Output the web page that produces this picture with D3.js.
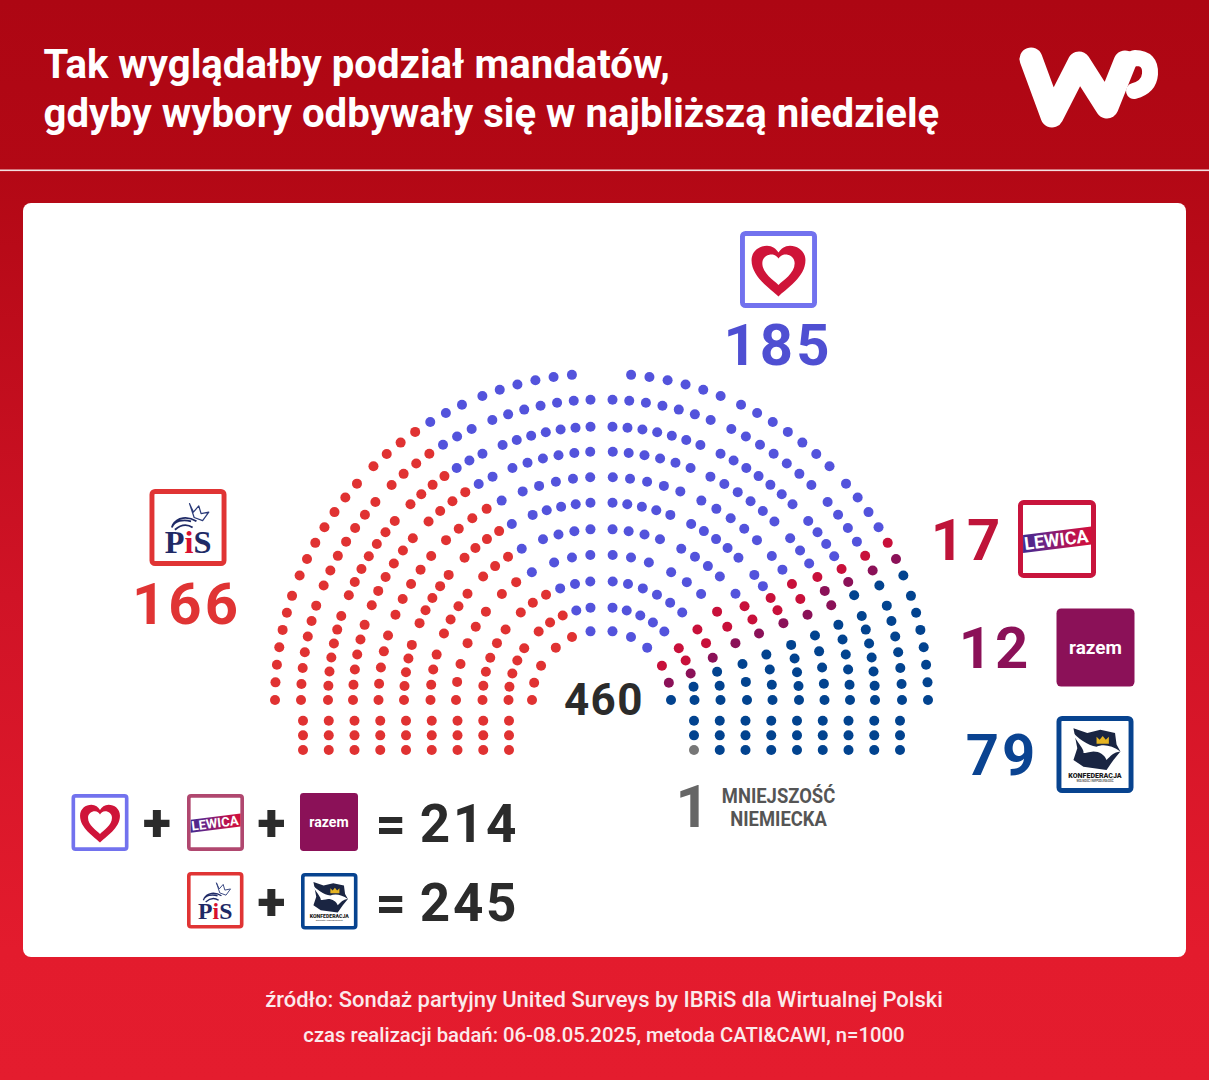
<!DOCTYPE html>
<html lang="pl"><head><meta charset="utf-8">
<script src="https://cdn.jsdelivr.net/npm/d3@7"></script>
<style>html,body{margin:0;padding:0;background:#fff}svg{display:block}text{font-family:Roboto,sans-serif}</style>
</head><body><div id="chart"></div>
<script>
// ---- values ----
const titleLines = ["Tak wyglądałby podział mandatów,", "gdyby wybory odbywały się w najbliższą niedzielę"];
const sourceLines = ["źródło: Sondaż partyjny United Surveys by IBRiS dla Wirtualnej Polski", "czas realizacji badań: 06-08.05.2025, metoda CATI&CAWI, n=1000"];
const totalSeats = 460;
const partyKeys = ["pis", "ko", "lewica", "razem", "konf", "mn"];
const partySeats = [166, 185, 17, 12, 79, 1];
const coalitionTotals = [214, 245];
const minorityLabel = ["MNIEJSZOŚĆ", "NIEMIECKA"];

// seats per arc row (inner row first), read left to right across the hall
const pisByRow    = [5, 8, 9, 8, 11, 14, 14, 16, 18, 18, 18];
const koByRow     = [4, 7, 9, 10, 14, 18, 18, 23, 28, 28, 26];
const lewicaByRow = [1, 2, 2, 2, 2, 2, 2, 1, 1, 1, 1];
const razemByRow  = [1, 1, 1, 1, 1, 1, 1, 2, 1, 1, 1];
const konfByRow   = [1, 2, 3, 3, 4, 5, 5, 6, 8, 8, 8];
// straight blocks below the arcs
const pisBlockSeats = 27;
const konfBlockSeats = 26;
const mnBlockSeats = 1;

// ---- hall geometry ----
const W = 1209, H = 1080, cx = 601.5, cy = 700;
const colors = {pis:"#e03232", ko:"#5353dc", lewica:"#c8103a", razem:"#8b1158", konf:"#02438f", mn:"#777777"};
const labelColors = {pis:"#e03434", ko:"#4f4fd2", lewica:"#bf1439", razem:"#8b1158", konf:"#0a4391", mn:"#666"};
const rowRadius = [69.5, 93, 119, 145.5, 171, 197.5, 223, 248.5, 273.5, 300.5, 326.5];
// [first angle, last angle, seats] of each wedge per row, degrees from the vertical, one half of the hall
const wedges = [
 [[9.1,41.1,3],[60.4,75.7,2],[90,90,1]],
 [[6.8,42.5,5],[56.2,73.5,3],[81.8,90,2]],
 [[5.4,42.7,6],[53.7,69.2,3],[76.3,90,3]],
 [[4.4,19,3],[28.6,43.2,3],[52.6,67,3],[75.7,90,3]],
 [[3.7,20,4],[27.8,43.8,4],[51.6,67.1,4],[74.6,90,4]],
 [[3.2,20.4,5],[27,43.9,5],[50.7,67.1,5],[73.8,90,5]],
 [[2.9,20.7,5],[26.6,44.2,5],[49.8,67.5,5],[73.2,90,5]],
 [[2.6,21,6],[26,44.1,6],[49.4,67.6,6],[72.4,90,6]],
 [[2.3,21.2,7],[25.8,44.3,7],[49.1,67.5,7],[72.1,90,7]],
 [[2.1,21.3,7],[25.6,44.3,7],[48.8,67.6,7],[71.7,90,7]],
 [[5.2,21.4,6],[25.3,44.3,7],[48.5,67.6,7],[71.4,90,7]]
];

const svg = d3.select("#chart").append("svg").attr("width",W).attr("height",H).attr("viewBox",[0,0,W,H]);
const defs = svg.append("defs");
const bg = defs.append("linearGradient").attr("id","bg").attr("x1",0).attr("y1",0).attr("x2",0).attr("y2",1);
[[0,"#ad0613"],[.16,"#b30815"],[.55,"#d01326"],[.88,"#e31b2d"],[1,"#e41c2e"]].forEach(d=>bg.append("stop").attr("offset",d[0]).attr("stop-color",d[1]));
const lg = defs.append("linearGradient").attr("id","lew").attr("x1",0).attr("y1",0).attr("x2",1).attr("y2",0);
[[0,"#43298f"],[.3,"#6a2385"],[.7,"#b81250"],[1,"#d2103a"]].forEach(d=>lg.append("stop").attr("offset",d[0]).attr("stop-color",d[1]));

svg.append("rect").attr("width",W).attr("height",H).attr("fill","url(#bg)");
svg.append("rect").attr("x",0).attr("y",169.5).attr("width",W).attr("height",1.6).attr("fill","#f3dfe0");
svg.append("rect").attr("x",23).attr("y",203).attr("width",1163).attr("height",754).attr("rx",8).attr("fill","#fff");

// header
svg.selectAll(".title").data(titleLines).join("text").attr("class","title")
  .attr("x",43.5).attr("y",(d,i)=>77.5+i*49).attr("fill","#fff").attr("font-size",40.15).attr("font-weight",700).text(d=>d);

// WP mark
const wp = svg.append("g").attr("fill","none").attr("stroke","#fff").attr("stroke-linecap","round").attr("stroke-linejoin","round");
wp.append("path").attr("stroke-width",23).attr("d","M1031 59 L1052 116 L1079 63 L1107 107 L1125 62");
wp.append("path").attr("stroke-width",16).attr("d","M1125 62 L1135 58 Q1151 58 1150 74 Q1149 87 1134 91");

// footer
svg.selectAll(".src").data(sourceLines).join("text").attr("class","src")
  .attr("x",604).attr("y",(d,i)=>1007+i*35).attr("text-anchor","middle").attr("fill","#fbeaec")
  .attr("font-size",(d,i)=>i?20.3:22).attr("font-weight",500).text(d=>d);

// ---- arc seats ----
const arcSeats = [];
wedges.forEach((row,ri)=>{
  const half = row.flatMap(([a,b,n])=>{
    const t = d3.scaleLinear().domain([0,Math.max(n-1,1)]).range([a,b]);
    return d3.range(n).map(i=>t(i));
  });
  const angles = half.map(d=>-d).concat(half).sort(d3.ascending);
  const owners = [].concat(
    Array(pisByRow[ri]).fill("pis"), Array(koByRow[ri]).fill("ko"),
    Array(lewicaByRow[ri]).fill("lewica"), Array(razemByRow[ri]).fill("razem"), Array(konfByRow[ri]).fill("konf"));
  angles.forEach((ang,i)=>{
    const [x,y] = d3.pointRadial(ang*Math.PI/180, rowRadius[ri]);
    arcSeats.push({x:cx+x,y:cy+y,party:owners[i]});
  });
});
// ---- straight blocks ----
const colX = d3.scaleLinear().domain([0,8]).range([92.5,298.5]);
const rowY = d3.scaleLinear().domain([0,2]).range([720.7,750]);
const blockSeats = [];
d3.range(pisBlockSeats).forEach(i=>blockSeats.push({x:cx-colX(8-(i%9)),y:rowY(Math.floor(i/9)),party:"pis"}));
const rightBlock = [].concat(Array(mnBlockSeats).fill("mn"),Array(konfBlockSeats).fill("konf"));
rightBlock.forEach((p,i)=>blockSeats.push({x:cx+colX(i%9),y:rowY(2-Math.floor(i/9)),party:p}));

svg.append("g").selectAll("circle").data(arcSeats.concat(blockSeats)).join("circle")
  .attr("cx",d=>d.x).attr("cy",d=>d.y).attr("r",5).attr("fill",d=>colors[d.party]);

svg.append("text").attr("x",604).attr("y",715).attr("text-anchor","middle").attr("font-size",44).attr("font-weight",700)
  .attr("letter-spacing",1.5).attr("fill","#2b2b2b").text(totalSeats);

// ---- logos, drawn in a 100 x 100 box ----
const heartPath = "M50 85 C40 75 15 60 15 38 C15 26 25 19 35 19 C42 19 47 23 50 28 C53 23 58 19 65 19 C75 19 85 26 85 38 C85 60 60 75 50 85Z";
function frame(g,color){
  g.append("rect").attr("x",3.2).attr("y",3.2).attr("width",93.6).attr("height",93.6).attr("rx",4).attr("fill","#fff").attr("stroke",color).attr("stroke-width",6.4);
}
const logos = {
  ko(g){ frame(g,"#7272ee");
    g.append("path").attr("d",heartPath).attr("fill","#cf1439");
    g.append("path").attr("d",heartPath).attr("fill","#fff").attr("transform","translate(50,49) scale(.6) translate(-50,-50)");
  },
  lewica(g,color="#c8143c"){ frame(g,color);
    g.append("path").attr("d","M6.5 45 L94 34 L94 57 L6.5 68Z").attr("fill","url(#lew)");
    g.append("text").attr("transform","translate(50,59) rotate(-7)").attr("text-anchor","middle").attr("fill","#fff")
      .attr("font-size",23).attr("font-weight",700).text("LEWICA");
  },
  razem(g){
    g.append("rect").attr("width",100).attr("height",100).attr("rx",6).attr("fill","#8b1158");
    g.append("text").attr("x",50).attr("y",58).attr("text-anchor","middle").attr("fill","#fff").attr("font-size",24.3).attr("font-weight",700).text("razem");
  },
  pis(g){ frame(g,"#e03434");
    g.append("path").attr("d","M52 19 L57 30 L64 22 L67 32 L77 30 L69 41 L58 37 Z").attr("fill","none").attr("stroke","#2a3a78").attr("stroke-width",1.6).attr("stroke-linejoin","round");
    g.append("path").attr("d","M29 50 C32 41 44 39 54 42 M30 47 C36 36 50 35 61 42 M33 53 C42 45 50 46 56 50").attr("fill","none").attr("stroke","#1f2a66").attr("stroke-width",2.4);
    const t = g.append("text").attr("x",50).attr("y",83).attr("text-anchor","middle").attr("font-size",42).attr("font-weight",700).attr("fill","#1f2a66").style("font-family","'Liberation Serif',serif");
    t.append("tspan").text("P"); t.append("tspan").attr("fill","#d8102f").text("i"); t.append("tspan").text("S");
  },
  konf(g){ frame(g,"#07438f");
    g.append("path").attr("d","M22 16 L40 22 L57 18 L76 22 L78 37 L83 46 L74 57 L65 70 L35 66 L22 57 L27 42Z").attr("fill","#1a2542");
    g.append("path").attr("d","M18 18 C28 30 40 38 52 40 C60 36 72 38 83 46 C74 47 70 52 65 57 C62 50 56 46 48 46 C42 47 38 48 35 48 C37 44 25 32 18 18Z").attr("fill","#fff");
    g.append("path").attr("d","M52 36 L52 27 L56 31 L60 26 L64 31 L68 27 L68 36Z").attr("fill","#e6b422");
    g.append("text").attr("x",50).attr("y",80).attr("text-anchor","middle").attr("font-size",9.2).attr("font-weight",900).attr("fill","#1a1a1a").text("KONFEDERACJA");
    g.append("text").attr("x",50).attr("y",85.5).attr("text-anchor","middle").attr("font-size",3.6).attr("font-weight",500).attr("fill","#333").text("WOLNOŚĆ I NIEPODLEGŁOŚĆ");
  }
};
function logo(name,x,y,size,...rest){
  const g = svg.append("g").attr("transform",`translate(${x},${y}) scale(${size/100})`);
  logos[name](g,...rest);
}
logo("ko",740,231,77);
logo("pis",149.5,489,77);
logo("lewica",1018,500,78);
logo("razem",1056.5,608.5,78);
logo("konf",1056.5,716,77);
logo("ko",71.5,794,57);
logo("lewica",187,794,57,"#b0476f");
logo("razem",300,793,58);
logo("pis",187,872,56.5);
logo("konf",301,873,56.5);

// ---- party numbers ----
const seatOf = k=>partySeats[partyKeys.indexOf(k)];
const numberSpots = [["ko",778,365],["pis",186.5,624],["lewica",967,560],["razem",995,668],["konf",1002,775]];
svg.selectAll(".num").data(numberSpots).join("text").attr("class","num")
  .attr("x",d=>d[1]).attr("y",d=>d[2]).attr("text-anchor","middle").attr("font-size",58).attr("font-weight",700)
  .attr("letter-spacing",3).attr("fill",d=>labelColors[d[0]]).text(d=>seatOf(d[0]));

// minority
svg.append("text").attr("x",692.5).attr("y",826.5).attr("text-anchor","middle").attr("font-size",59).attr("font-weight",700).attr("fill",labelColors.mn).text(seatOf("mn"));
svg.selectAll(".mn").data(minorityLabel).join("text").attr("class","mn")
  .attr("transform",(d,i)=>`translate(778.5,${802.5+i*23.5}) scale(.92,1)`).attr("text-anchor","middle")
  .attr("font-size",20).attr("font-weight",700).attr("fill","#555").text(d=>d);

// coalition sums
const plusSpots = [[157,823],[271.5,823],[271.5,902]];
svg.selectAll(".plus").data(plusSpots).join("text").attr("class","plus")
  .attr("x",d=>d[0]).attr("y",d=>d[1]+17.5).attr("text-anchor","middle").attr("font-size",52).attr("font-weight",900).attr("fill","#2b2b2b").text("+");
svg.selectAll(".sum").data(coalitionTotals).join("text").attr("class","sum")
  .attr("x",375.5).attr("y",(d,i)=>842+i*78.5).attr("font-size",53).attr("font-weight",700).attr("letter-spacing",2.8).attr("word-spacing",-5).attr("fill","#2b2b2b")
  .text(d=>"= "+d);
</script></body></html>
